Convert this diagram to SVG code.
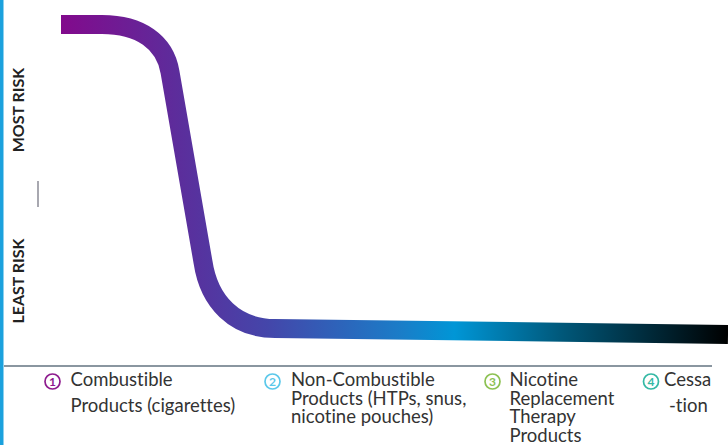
<svg xmlns="http://www.w3.org/2000/svg" width="728" height="445" viewBox="0 0 728 445">
<defs>
<linearGradient id="riskGrad" gradientUnits="userSpaceOnUse" x1="61" y1="0" x2="728" y2="0">
<stop offset="0" stop-color="#820A8C"/>
<stop offset="0.18" stop-color="#5B2E9C"/>
<stop offset="0.31" stop-color="#4446AA"/>
<stop offset="0.51" stop-color="#1A7DC8"/>
<stop offset="0.59" stop-color="#0096D6"/>
<stop offset="0.75" stop-color="#00587A"/>
<stop offset="1" stop-color="#000000"/>
</linearGradient>
<style>
.axis{font-family:Lato,"Liberation Sans",sans-serif;font-weight:bold;font-size:16px;fill:#222;}
.lbl{font-family:Lato,"Liberation Sans",sans-serif;font-size:18.5px;fill:#333;font-variant-ligatures:none;}
.num{font-family:Lato,"Liberation Sans",sans-serif;font-size:12px;font-weight:bold;text-anchor:middle;}
.ring{fill:none;stroke-width:1.7;}
</style>
</defs>
<rect x="0" y="0" width="3.5" height="445" fill="#1BA1DD"/>
<g id="axis">
<line x1="4" y1="366" x2="712" y2="366" stroke="#8A96A0" stroke-width="2"/>
<line x1="38" y1="181" x2="38" y2="207" stroke="#A8A8B0" stroke-width="2"/>
<text class="axis" transform="translate(24,110) rotate(-90)" text-anchor="middle">MOST RISK</text>
<text class="axis" transform="translate(24,281) rotate(-90)" text-anchor="middle">LEAST RISK</text>
</g>
<g id="connectors">
<path d="M61,24.5 L102,24.5 C140,24.5 165,42 170,72 L203,262 C209,302 235,328.5 275,328.5 L728,334.5" fill="none" stroke="url(#riskGrad)" stroke-width="19"/>
</g>
<g id="node1">
<circle class="ring" cx="52.5" cy="381.5" r="7.5" stroke="#8E1B8E"/>
<text class="num" x="52.5" y="385.8" fill="#8E1B8E">1</text>
<text class="lbl" x="70.5" y="386">Combustible</text>
<text class="lbl" x="70.5" y="411.5">Products (cigarettes)</text>
</g>
<g id="node2">
<circle class="ring" cx="272.5" cy="381.5" r="7.5" stroke="#5BC8EA"/>
<text class="num" x="272.5" y="385.8" fill="#5BC8EA">2</text>
<text class="lbl" x="291" y="386">Non-Combustible</text>
<text class="lbl" x="291" y="404.5">Products (HTPs, snus,</text>
<text class="lbl" x="291" y="423">nicotine pouches)</text>
</g>
<g id="node3">
<circle class="ring" cx="492.5" cy="381.5" r="7.5" stroke="#8CC152"/>
<text class="num" x="492.5" y="385.8" fill="#8CC152">3</text>
<text class="lbl" x="509.5" y="386">Nicotine</text>
<text class="lbl" x="509.5" y="404.5">Replacement</text>
<text class="lbl" x="509.5" y="423">Therapy</text>
<text class="lbl" x="509.5" y="441.5">Products</text>
</g>
<g id="node4">
<circle class="ring" cx="651" cy="381.5" r="7.5" stroke="#35B9A5"/>
<text class="num" x="651" y="385.8" fill="#35B9A5">4</text>
<text class="lbl" x="664" y="386">Cessa</text>
<text class="lbl" x="669" y="412">-tion</text>
</g>
</svg>
